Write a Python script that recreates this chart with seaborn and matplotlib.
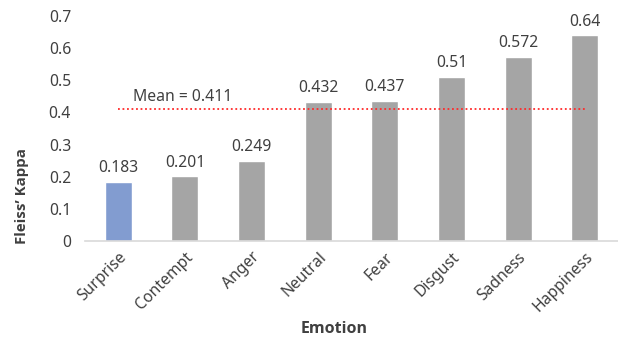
import matplotlib
matplotlib.use("Agg")
import matplotlib.pyplot as plt
import pandas as pd
import seaborn as sns

emotions = ["Surprise", "Contempt", "Anger", "Neutral", "Fear", "Disgust", "Sadness", "Happiness"]
kappa = [0.183, 0.201, 0.249, 0.432, 0.437, 0.51, 0.572, 0.64]
value_labels = ["0.183", "0.201", "0.249", "0.432", "0.437", "0.51", "0.572", "0.64"]
mean_kappa = 0.411
y_ticks = [0, 0.1, 0.2, 0.3, 0.4, 0.5, 0.6, 0.7]
y_tick_labels = ["0", "0.1", "0.2", "0.3", "0.4", "0.5", "0.6", "0.7"]

TEXT = "#404040"
FS = 11.3
BOLD_FONT = ["Open Sans", "DejaVu Sans"]


def main() -> None:
    df = pd.DataFrame({"Emotion": emotions, "Kappa": kappa})
    sns.set_theme(style="white")
    plt.rcParams["font.family"] = ["Noto Sans", "DejaVu Sans"]

    fig = plt.figure(figsize=(6.18, 3.41), dpi=100)
    ax = fig.add_axes([85 / 618, 100 / 341, 533 / 618, 225 / 341])

    palette = ["#829cd0"] + ["#a5a5a5"] * (len(emotions) - 1)
    sns.barplot(data=df, x="Emotion", y="Kappa", hue="Emotion", palette=palette,
                legend=False, width=0.405, ax=ax, saturation=1)

    for i, (v, lab) in enumerate(zip(kappa, value_labels)):
        ax.text(i, v + 0.018, lab, ha="center", va="bottom", fontsize=FS, color=TEXT)

    ax.plot([0, len(emotions) - 1], [mean_kappa, mean_kappa], linestyle=(0, (1, 1.5)),
            color="#ff2a2a", linewidth=1.3)
    ax.text(0.22, mean_kappa + 0.013, f"Mean = {mean_kappa}", ha="left", va="bottom",
            fontsize=FS, color=TEXT)

    ax.set_ylim(0, 0.7)
    ax.set_xlim(-0.5, 7.5)
    ax.set_yticks(y_ticks)
    ax.set_yticklabels(y_tick_labels, fontsize=FS, color=TEXT)
    ax.set_xticks(range(len(emotions)))
    ax.set_xticklabels(emotions, rotation=45, ha="right", rotation_mode="anchor",
                       fontsize=FS, color=TEXT)
    ax.tick_params(axis="both", length=0)
    ax.tick_params(axis="y", pad=10)
    ax.tick_params(axis="x", pad=6)

    for side in ["top", "right", "left"]:
        ax.spines[side].set_visible(False)
    ax.spines["bottom"].set_color("#d9d9d9")
    ax.spines["bottom"].set_linewidth(1.2)

    ax.set_xlabel("Emotion", fontsize=11.5, fontweight="bold", family=BOLD_FONT, color=TEXT)
    ax.set_ylabel("Fleiss’ Kappa", fontsize=10.8, fontweight="bold", family=BOLD_FONT, color=TEXT)
    ax.xaxis.set_label_coords(0.468, -0.356)
    ax.yaxis.set_label_coords(-0.105, 0.20)

    fig.savefig("out.png", dpi=100)
    plt.close(fig)


if __name__ == "__main__":
    main()
